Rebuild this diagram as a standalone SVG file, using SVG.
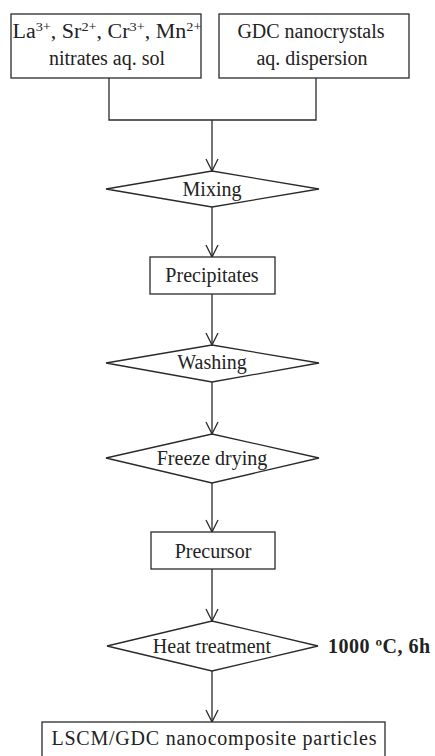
<svg xmlns="http://www.w3.org/2000/svg" width="435" height="756" viewBox="0 0 435 756">
<style>
.s{fill:#fff;stroke:#2a2a2a;stroke-width:1.3}
.t{font-family:"Liberation Serif","Times New Roman",serif;font-size:20px;fill:#222;text-anchor:middle}
.b{font-family:"Liberation Serif","Times New Roman",serif;font-size:20px;font-weight:bold;fill:#222}
.c{fill:none;stroke:#2a2a2a;stroke-width:1.3}
.sup{font-size:13px}
</style>
<defs>
<marker id="ah" markerUnits="userSpaceOnUse" markerWidth="14" markerHeight="14" viewBox="0 0 14 14" refX="13" refY="7" orient="auto">
<path d="M1,1 L13,7 L1,13" fill="none" stroke="#2a2a2a" stroke-width="1.3"/>
</marker>
</defs>
<rect width="435" height="756" fill="#fff"/>
<g id="connectors">
<path class="c" d="M109,78 V120 H316 V78"/>
<line class="c" x1="212" y1="120" x2="212" y2="171" marker-end="url(#ah)"/>
<line class="c" x1="212" y1="207" x2="212" y2="257" marker-end="url(#ah)"/>
<line class="c" x1="212" y1="294" x2="212" y2="345" marker-end="url(#ah)"/>
<line class="c" x1="212" y1="382" x2="212" y2="434" marker-end="url(#ah)"/>
<line class="c" x1="212" y1="483" x2="212" y2="532" marker-end="url(#ah)"/>
<line class="c" x1="212" y1="569" x2="212" y2="621" marker-end="url(#ah)"/>
<line class="c" x1="212" y1="671" x2="212" y2="722" marker-end="url(#ah)"/>
</g>
<g id="nitrates">
<rect class="s" x="11" y="14" width="190" height="64"/>
<text class="t" x="107" y="38" textLength="189" lengthAdjust="spacingAndGlyphs">La<tspan class="sup" dy="-7">3+</tspan><tspan dy="7">, Sr</tspan><tspan class="sup" dy="-7">2+</tspan><tspan dy="7">, Cr</tspan><tspan class="sup" dy="-7">3+</tspan><tspan dy="7">, Mn</tspan><tspan class="sup" dy="-7">2+</tspan></text>
<text class="t" x="107" y="65">nitrates  aq. sol</text>
</g>
<g id="gdc">
<rect class="s" x="219" y="14" width="190" height="64"/>
<text class="t" x="311" y="38">GDC nanocrystals</text>
<text class="t" x="312" y="65">aq. dispersion</text>
</g>
<g id="mixing">
<polygon class="s" points="106,189 212,171 319,189 212,207"/>
<text class="t" x="212" y="196">Mixing</text>
</g>
<g id="precipitates">
<rect class="s" x="150" y="257" width="125" height="37"/>
<text class="t" x="212" y="282">Precipitates</text>
</g>
<g id="washing">
<polygon class="s" points="106,363 212,345 319,363 212,382"/>
<text class="t" x="212" y="369">Washing</text>
</g>
<g id="freeze">
<polygon class="s" points="106,458 212,434 319,458 212,483"/>
<text class="t" x="212" y="465">Freeze drying</text>
</g>
<g id="precursor">
<rect class="s" x="151" y="532" width="124" height="37"/>
<text class="t" x="213" y="558">Precursor</text>
</g>
<g id="heat">
<polygon class="s" points="107,646 212,621 318,646 212,671"/>
<text class="t" x="212" y="653">Heat treatment</text>
<text class="b" x="328" y="653" textLength="102" lengthAdjust="spacing">1000 ºC, 6h</text>
</g>
<g id="final">
<rect class="s" x="42" y="722" width="343" height="40"/>
<text class="t" x="214" y="745" textLength="325" lengthAdjust="spacing">LSCM/GDC nanocomposite particles</text>
</g>
</svg>
